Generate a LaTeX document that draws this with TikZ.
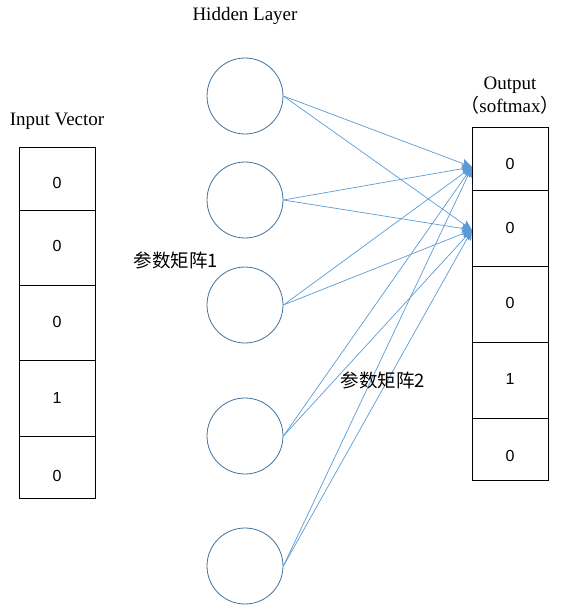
\documentclass[tikz,border=0pt]{standalone}
\usepackage{fontspec}
\setmainfont{Liberation Serif}
\newfontfamily\cjk{Noto Sans CJK SC}
\newfontfamily\digitfont{Liberation Sans}
\usetikzlibrary{arrows.meta, positioning}
\definecolor{lineblue}{RGB}{91,155,213}
\definecolor{ringblue}{RGB}{65,113,156}
\tikzset{
  cell/.style={draw, line width=0.8pt, minimum width=76pt, inner sep=0pt},
  digit/.style={font=\digitfont\fontsize{16}{18}\selectfont, inner sep=0pt},
  neuron/.style={circle, draw=ringblue, line width=0.8pt, minimum size=76pt, inner sep=0pt},
  link/.style={lineblue, line width=0.7pt, -{Stealth[length=10pt, width=9pt, inset=1.5pt]}},
  caption/.style={font=\fontsize{19}{21}\selectfont},
  matlabel/.style={font=\cjk\fontsize{18.5}{20}\selectfont}
}

\begin{document}
\begin{tikzpicture}[x=1pt, y=-1pt]
	\useasboundingbox (0,0) rectangle (568,607);
	%input vector
	\node [caption] (inlabel) at (57,121) {Input Vector};
	\node [cell, minimum height=63pt] (i1) at (57,178.5) {};
	\node [cell, minimum height=75pt] (i2) at (57,247.5) {};
	\node [cell, minimum height=75pt] (i3) at (57,322.5) {};
	\node [cell, minimum height=76pt] (i4) at (57,398) {};
	\node [cell, minimum height=62pt] (i5) at (57,467) {};
	\node [digit] (iv1) at (57,183) {0};
	\node [digit] (iv2) at (57,246) {0};
	\node [digit] (iv3) at (57,322) {0};
	\node [digit] (iv4) at (57,398) {1};
	\node [digit] (iv5) at (57,476) {0};
	%hidden layer
	\node [caption] (hlabel) at (245,16) {Hidden Layer};
	\node [neuron] (h1) at (245,96) {};
	\node [neuron] (h2) at (245,200) {};
	\node [neuron] (h3) at (245,305) {};
	\node [neuron] (h4) at (245,436) {};
	\node [neuron] (h5) at (245,566) {};
	%output
	\node [caption] (olabel) at (510,85) {Output};
	\node [caption] (osoft) at (510,105) {{\cjk （}softmax{\cjk ）}};
	\node [cell, minimum height=63pt] (o1) at (510,158.5) {};
	\node [cell, minimum height=76pt] (o2) at (510,228) {};
	\node [cell, minimum height=76pt] (o3) at (510,304) {};
	\node [cell, minimum height=76pt] (o4) at (510,380) {};
	\node [cell, minimum height=62pt] (o5) at (510,449) {};
	\node [digit] (ov1) at (510,164) {0};
	\node [digit] (ov2) at (510,228) {0};
	\node [digit] (ov3) at (510,303) {0};
	\node [digit] (ov4) at (510,379) {1};
	\node [digit] (ov5) at (510,456) {0};
	\coordinate (t1) at (472,167);
	\coordinate (t2) at (472,230);
	%weights
	\foreach \h in {h1,h2,h3,h4,h5}
		\foreach \t in {t1,t2}
			\draw [link] (\h.east) -- (\t);
	\node [matlabel] (m1) at (176,260) {参数矩阵1};
	\node [matlabel] (m2) at (383,380) {参数矩阵2};
\end{tikzpicture}
\end{document}
